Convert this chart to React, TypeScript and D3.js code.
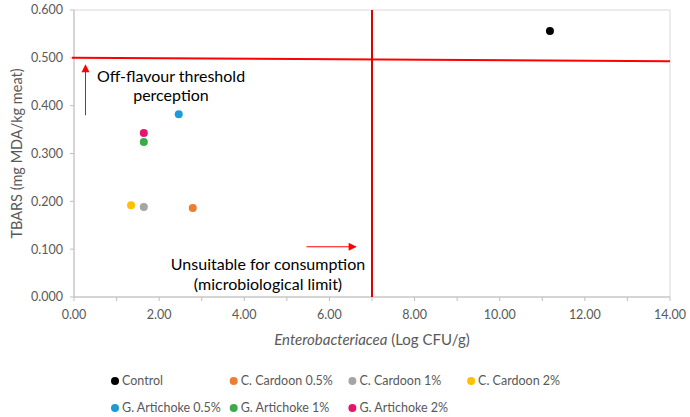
import * as d3 from 'd3';

// series names, colours and one (x, y) point per series
const seriesNames = [
    'Control',
    'C. Cardoon 0.5%',
    'C. Cardoon 1%',
    'C. Cardoon 2%',
    'G. Artichoke 0.5%',
    'G. Artichoke 1%',
    'G. Artichoke 2%',
];
const seriesColors = ['#000000', '#ED7D31', '#A5A5A5', '#FFC000', '#1E9BD7', '#3DAA48', '#E8136B'];
const enterobacteria = [11.18, 2.79, 1.64, 1.34, 2.46, 1.64, 1.64];
const tbars = [0.556, 0.186, 0.188, 0.192, 0.382, 0.324, 0.343];

const xTicks = [0, 2, 4, 6, 8, 10, 12, 14];
const xMinorTicks = d3.range(0, 15, 1);
const yTicks = [0, 0.1, 0.2, 0.3, 0.4, 0.5, 0.6];

// red limit lines: [x1, y1, x2, y2]
const thresholdLine = [0, 0.5, 14, 0.493];
const microLimitLine = [7, 0, 7, 0.6];
// arrows: [x1, y1, x2, y2]
const upArrow = [0.27, 0.38, 0.27, 0.485];
const rightArrow = [5.46, 0.105, 6.62, 0.105];

const W = 690;
const H = 417;
const margin = { top: 10, right: 20, bottom: 120, left: 74 };
const font = 'Lato, "Open Sans", sans-serif';

export default function App() {
    const x = d3.scaleLinear().domain([0, 14]).range([margin.left, W - margin.right]);
    const y = d3.scaleLinear().domain([0, 0.6]).range([H - margin.bottom, margin.top]);
    const [x0, x1] = x.range();
    const [y0, y1] = y.range();

    const arrow = (a: number[], key: string) => (
        <line key={key} x1={x(a[0])} y1={y(a[1])} x2={x(a[2])} y2={y(a[3])}
            stroke="#FF0000" strokeWidth={1} markerEnd="url(#arrowHead)" />
    );

    return (
        <div style={{ position: 'fixed', left: 0, top: 0 }}>
            <svg width={W} height={H} style={{ display: 'block', background: '#fff' }}>
                <defs>
                    <marker id="arrowHead" viewBox="0 0 10 10" refX="9" refY="5"
                        markerWidth="9" markerHeight="8" markerUnits="userSpaceOnUse" orient="auto">
                        <path d="M0,0 L10,5 L0,10 z" fill="#FF0000" />
                    </marker>
                </defs>

                {/* plot border */}
                <rect x={x0} y={y1} width={x1 - x0} height={y0 - y1} fill="none" stroke="#D9D9D9" />
                <line x1={x0} x2={x0} y1={y1} y2={y0} stroke="#BFBFBF" />
                <line x1={x0} x2={x1} y1={y0} y2={y0} stroke="#BFBFBF" />

                {/* x ticks */}
                {xMinorTicks.map(t => (
                    <line key={'xm' + t} x1={x(t)} x2={x(t)} y1={y0} y2={y0 + 4} stroke="#BFBFBF" />
                ))}
                {xTicks.map(t => (
                    <text key={'xt' + t} x={x(t)} y={y0 + 22} textAnchor="middle"
                        fontFamily={font} fontSize={12.5} fill="#595959">{t.toFixed(2)}</text>
                ))}

                {/* y ticks */}
                {yTicks.map(t => (
                    <g key={'yt' + t}>
                        <line x1={x0 - 4} x2={x0} y1={y(t)} y2={y(t)} stroke="#BFBFBF" />
                        <text x={x0 - 11} y={y(t)} dy="0.35em" textAnchor="end"
                            fontFamily={font} fontSize={12.5} fill="#595959">{t.toFixed(3)}</text>
                    </g>
                ))}

                {/* axis titles */}
                <text x={(x0 + x1) / 2} y={345} textAnchor="middle" fontFamily={font} fontSize={15} fill="#595959">
                    <tspan fontStyle="italic">Enterobacteriacea</tspan> (Log CFU/g)
                </text>
                <text transform={`translate(22,${(y0 + y1) / 2}) rotate(-90)`} textAnchor="middle"
                    fontFamily={font} fontSize={14.5} fill="#595959">TBARS (mg MDA/kg meat)</text>

                {/* limit lines */}
                <line x1={x(thresholdLine[0]) - 2} y1={y(thresholdLine[1])} x2={x(thresholdLine[2])} y2={y(thresholdLine[3])}
                    stroke="#FF0000" strokeWidth={2} />
                <line x1={x(microLimitLine[0])} y1={y(microLimitLine[1])} x2={x(microLimitLine[2])} y2={y(microLimitLine[3])}
                    stroke="#E00000" strokeWidth={2} />

                {arrow(upArrow, 'up')}
                {arrow(rightArrow, 'right')}

                {/* annotations */}
                <text textAnchor="middle" fontFamily={font} fontSize={16} fill="#000">
                    <tspan x={171} y={82}>Off-flavour threshold</tspan>
                    <tspan x={171} y={101}>perception</tspan>
                </text>
                <text textAnchor="middle" fontFamily={font} fontSize={16} fill="#000">
                    <tspan x={268} y={270}>Unsuitable for consumption</tspan>
                    <tspan x={268} y={290}>(microbiological limit)</tspan>
                </text>

                {/* points */}
                {seriesNames.map((s, i) => (
                    <circle key={s} cx={x(enterobacteria[i])} cy={y(tbars[i])} r={4} fill={seriesColors[i]} />
                ))}

                {/* legend */}
                {seriesNames.map((s, i) => {
                    const col = i < 4 ? i : i - 4;
                    const row = i < 4 ? 0 : 1;
                    const lx = 115 + col * 118.7;
                    const ly = 381 + row * 27;
                    return (
                        <g key={'lg' + s}>
                            <circle cx={lx} cy={ly} r={4} fill={seriesColors[i]} />
                            <text x={lx + 7} y={ly} dy="0.35em" fontFamily={font} fontSize={12.5} fill="#595959">{s}</text>
                        </g>
                    );
                })}
            </svg>
        </div>
    );
}
